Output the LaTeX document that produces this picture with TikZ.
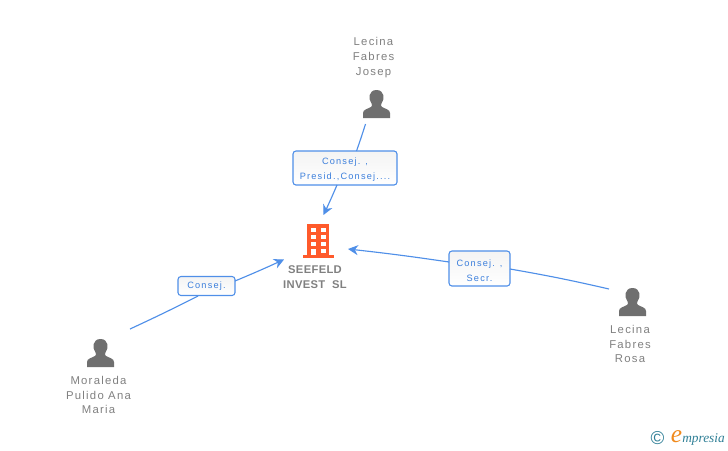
\documentclass[tikz,border=0pt]{standalone}
\usepackage{fontspec}
\setmainfont{Liberation Sans}
\newfontfamily\lblfont[LetterSpace=11]{Liberation Sans}
\newfontfamily\cofont[LetterSpace=3]{Liberation Sans}
\newfontfamily\boxfont[LetterSpace=13]{Liberation Sans}
\newfontfamily\logofont{Liberation Serif}
\usetikzlibrary{arrows.meta,shadings}
\definecolor{linkblue}{HTML}{4F8FE8}
\definecolor{boxtext}{HTML}{3C7FDC}
\definecolor{persongrey}{HTML}{6F6F6F}
\definecolor{labelgrey}{HTML}{808080}
\definecolor{bldg}{HTML}{FF5A2B}
\definecolor{logoteal}{HTML}{2F7F96}
\definecolor{logoorange}{HTML}{F08A1D}
\tikzset{
  link/.style={draw=linkblue,line width=0.85pt},
  linkarrow/.style={link,-{Stealth[length=7.5pt,width=7.5pt,inset=2.4pt]}},
  rolebox/.style={draw=linkblue,line width=0.8pt,rounded corners=2.2pt,
    top color=gray!9,bottom color=white,inner sep=0pt},
  roletext/.style={inner sep=0pt,align=center,text=boxtext,font=\boxfont\fontsize{6.9pt}{11.2pt}\selectfont},
  personlabel/.style={align=center,text=labelgrey,inner sep=0pt,font=\lblfont\fontsize{8.5pt}{11.2pt}\selectfont},
  companylabel/.style={align=center,text=labelgrey,inner sep=0pt,font=\cofont\bfseries\fontsize{8.4pt}{11.2pt}\selectfont},
  personicon/.style={inner sep=0pt,minimum width=21pt,minimum height=21pt},
  px/.style={x=0.75pt,y=-0.75pt}
}
\newcommand{\drawperson}[1]{%
  \begin{scope}[shift={(#1)}]
    \fill[persongrey] (-13.5,14) -- (-13.5,9) .. controls (-13.5,5.5) and (-9,5) .. (-5.5,3)
      .. controls (-4.2,2.2) and (-4.2,0.8) .. (-5,-0.5)
      .. controls (-8.5,-5) and (-8,-14) .. (0,-14)
      .. controls (8,-14) and (8.5,-5) .. (5,-0.5)
      .. controls (4.2,0.8) and (4.2,2.2) .. (5.5,3)
      .. controls (9,5) and (13.5,5.5) .. (13.5,9) -- (13.5,14) -- cycle;
  \end{scope}}
\begin{document}
\begin{tikzpicture}[px]
\useasboundingbox (0,0) rectangle (728,450);
% person icons
\drawperson{376.5,104}
\drawperson{632.5,302}
\drawperson{100.5,353}
% invisible nodes over the icons
\node[personicon] (josep) at (376.5,104) {};
\node[personicon] (rosa) at (632.5,302) {};
\node[personicon] (ana) at (100.5,353) {};
% building
\fill[bldg] (307,224) rectangle (329,255);
\fill[bldg] (302.5,255) rectangle (334,258);
\foreach \yy in {228,235,242} {
  \fill[white] (311,\yy) rectangle (316,\yy+4);
  \fill[white] (321,\yy) rectangle (326,\yy+4);
}
\fill[white] (311,248.5) rectangle (316,255);
\fill[white] (321,248.5) rectangle (326,252.5);
\node[inner sep=0pt,minimum width=24pt,minimum height=25.5pt] (company) at (318,241) {};
% labels
\node[personlabel] (josepl) at (373.5,57.5) {Lecina\\Fabres\\Josep};
\node[personlabel] (rosal) at (630,344) {Lecina\\Fabres\\Rosa};
\node[personlabel] (anal) at (98.5,395) {Moraleda\\Pulido Ana\\Maria};
\node[companylabel] (companyl) at (315,277.5) {SEEFELD\\INVEST\ \ SL};
% role boxes
\node[rolebox,minimum width=78pt,minimum height=25.5pt] (b1) at (345,168) {};
\node[rolebox,minimum width=42.75pt,minimum height=14.25pt] (b2) at (206.5,286) {};
\node[rolebox,minimum width=45.75pt,minimum height=26.25pt] (b3) at (479.5,268.5) {};
\node[roletext] (b1t) at (345,170) {Consej. ,\\Presid.,Consej....};
\node[roletext] (b2t) at (206.5,286.5) {Consej.};
\node[roletext] (b3t) at (479.5,270.5) {Consej. ,\\Secr.};
% connector ends
\coordinate (j0) at (365.5,124);
\coordinate (j1) at (356.5,151);
\coordinate (j2) at (337,185);
\coordinate (j3) at (323.5,215);
\coordinate (a0) at (130,329);
\coordinate (a1) at (198,296);
\coordinate (a2) at (235,281);
\coordinate (a3) at (284,259.5);
\coordinate (r0) at (609,289);
\coordinate (r1) at (510,269);
\coordinate (r2) at (449,262);
\coordinate (r3) at (348,249);
\draw[link] (j0) to[bend left=1] (j1);
\draw[linkarrow] (j2) to[bend left=1] (j3);
\draw[link] (a0) to[bend right=1] (a1);
\draw[linkarrow] (a2) to[bend right=1] (a3);
\draw[link] (r0) to[bend right=1.5] (r1);
\draw[linkarrow] (r2) to[bend right=1] (r3);
% logo
\node[inner sep=0pt,text=logoteal,font=\fontsize{14pt}{14pt}\selectfont] (copy) at (657.5,438.5) {©};
\node[inner sep=0pt,text=logoorange,font=\logofont\itshape\fontsize{19pt}{19pt}\selectfont] (logoe) at (676.5,437) {e};
\node[inner sep=0pt,anchor=west,text=logoteal,font=\logofont\itshape\fontsize{10pt}{10pt}\selectfont] (logot) at (682,439.5) {mpresia};
\end{tikzpicture}
\end{document}
